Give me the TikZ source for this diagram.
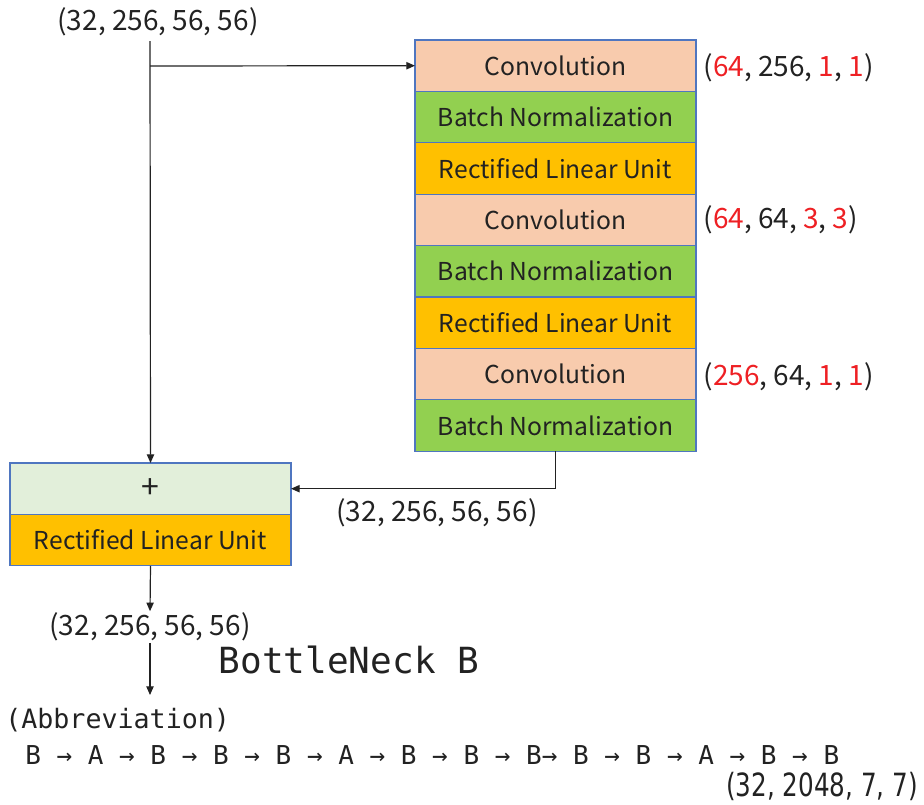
\documentclass[tikz,border=0pt]{standalone}
\usepackage{fontspec}
\setmainfont{Noto Sans CJK JP}
\newfontfamily\codefont{DejaVu Sans Mono}
\newfontfamily\narrowfont[FakeStretch=0.77]{DejaVu Sans}
\usepackage{xcolor}
\usetikzlibrary{positioning,arrows.meta}
\definecolor{convfill}{HTML}{F8CBAD}
\definecolor{bnfill}{HTML}{92D050}
\definecolor{relufill}{HTML}{FFC000}
\definecolor{addfill}{HTML}{E2EFDA}
\definecolor{edge}{HTML}{4F76C0}
\definecolor{ink}{HTML}{222222}
\definecolor{numred}{HTML}{EE2024}
\newcommand{\rn}[1]{\textcolor{numred}{#1}}
\tikzset{
  layer/.style={draw=edge, line width=0.8pt, outer sep=0pt, text=ink,
    minimum width=210.75pt, minimum height=38.55pt, font=\fontsize{18.5}{20}\selectfont},
  conv/.style={layer, fill=convfill},
  bnorm/.style={layer, fill=bnfill},
  relu/.style={layer, fill=relufill},
  addbox/.style={layer, fill=addfill, font=\fontsize{24}{26}\selectfont},
  arr/.style={draw=ink, line width=0.9pt, -{Triangle[length=6.5pt,width=5.5pt]}},
  lab/.style={text=ink, inner sep=1pt, font=\fontsize{21}{23}\selectfont},
}
\begin{document}
\begin{tikzpicture}[x=0.75pt,y=-0.75pt]
  \useasboundingbox (0,0) rectangle (924,804);

  % bottleneck branch
  \node[conv, anchor=north] (c1) at (555.5,40) {Convolution};
  \node[bnorm, below=0pt of c1] (b1) {Batch Normalization};
  \node[relu, below=0pt of b1] (r1) {Rectified Linear Unit};
  \node[conv, below=0pt of r1] (c2) {Convolution};
  \node[bnorm, below=0pt of c2] (b2) {Batch Normalization};
  \node[relu, below=0pt of b2] (r2) {Rectified Linear Unit};
  \node[conv, below=0pt of r2] (c3) {Convolution};
  \node[bnorm, below=0pt of c3] (b3) {Batch Normalization};

  \node[lab, anchor=west] (k1) at (702,68) {(\rn{64}, 256, \rn{1}, \rn{1})};
  \node[lab, anchor=west] (k2) at (702,220) {(\rn{64}, 64, \rn{3}, \rn{3})};
  \node[lab, anchor=west] (k3) at (702,377) {(\rn{256}, 64, \rn{1}, \rn{1})};

  % shortcut and sum
  \node[addbox, anchor=north] (add) at (150.5,463) {+};
  \node[relu, below=0pt of add] (r0) {Rectified Linear Unit};

  \node[lab] (inp) at (158,22) {(32, 256, 56, 56)};
  \node[lab] (mid) at (437,513) {(32, 256, 56, 56)};
  \node[lab] (o1) at (150,627) {(32, 256, 56, 56)};

  \coordinate (top) at (150,41);
  \coordinate (split) at (150,66);
  \coordinate (nxt) at (150,695);

  \draw[arr] (top) -- (add.north);
  \draw[arr] (split) -- (c1.west);
  \draw[arr] (b3.south) |- (add.east);
  \draw[arr] (r0.south) -- (o1.north);
  \draw[arr] (o1.south) -- (nxt);

  \node[text=ink, font=\codefont\fontsize{27}{29}\selectfont] (name) at (349,660) {BottleNeck B};
  \node[text=ink, anchor=west, inner sep=0pt, font=\codefont\fontsize{20}{22}\selectfont] (abbr) at (5,720) {(Abbreviation)};
  \node[text=ink, anchor=west, inner sep=0pt, font=\codefont\fontsize{19.5}{22}\selectfont] (seq) at (25,755)
    {B → A → B → B → B → A → B → B → B→ B → B → A → B → B};
  \node[text=ink, anchor=east, inner sep=0pt, font=\narrowfont\fontsize{24}{26}\selectfont] (fin) at (918,786) {(32, 2048, 7, 7)};
\end{tikzpicture}
\end{document}
